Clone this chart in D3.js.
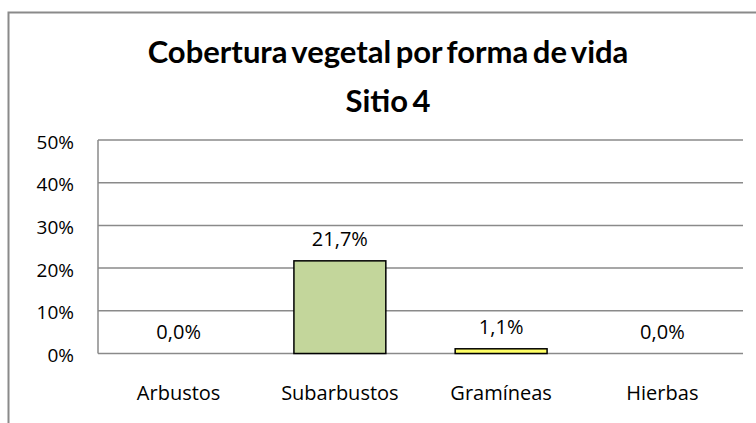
<!DOCTYPE html>
<html>
<head>
<meta charset="utf-8">
<script src="https://cdn.jsdelivr.net/npm/d3@7"></script>
<style>
  html, body { margin: 0; padding: 0; background: #fff; }
  svg { display: block; }
  text { font-family: "Open Sans", Lato, sans-serif; fill: #000; }
  .title { font-family: Lato, "Open Sans", sans-serif; font-weight: bold; }
</style>
</head>
<body>
<svg id="chart" width="756" height="423"></svg>
<script>
// Cobertura vegetal por forma de vida — Sitio 4
const titleLines = ["Cobertura vegetal por forma de vida", "Sitio 4"];
const categories = ["Arbustos", "Subarbustos", "Gramíneas", "Hierbas"];
const values = [0.0, 21.7, 1.1, 0.0];
const barColors = ["#c3d69b", "#c3d69b", "#ffff66", "#c3d69b"];
const yTicks = [0, 10, 20, 30, 40, 50];

const svg = d3.select("#chart");
const plot = { left: 98, right: 743, top: 140, bottom: 353.5 };

// outer chart frame (runs past the right and bottom edges)
svg.append("rect")
  .attr("x", 8.5).attr("y", 12.5)
  .attr("width", 900).attr("height", 600)
  .attr("fill", "#fff")
  .attr("stroke", "#8a8a8a").attr("stroke-width", 2);

// title
svg.append("g")
  .selectAll("text")
  .data(titleLines)
  .join("text")
  .attr("class", "title")
  .attr("x", 388)
  .attr("y", (d, i) => 63 + i * 49)
  .attr("text-anchor", "middle")
  .attr("font-size", 31)
  .attr("word-spacing", -3)
  .text(d => d);

const x = d3.scaleBand()
  .domain(categories)
  .range([plot.left, plot.right])
  .paddingInner(0.43)
  .paddingOuter(0.215);

const y = d3.scaleLinear()
  .domain([0, 50])
  .range([plot.bottom, plot.top]);

// gridlines
svg.append("g")
  .selectAll("line")
  .data(yTicks)
  .join("line")
  .attr("x1", plot.left).attr("x2", plot.right)
  .attr("y1", d => y(d)).attr("y2", d => y(d))
  .attr("stroke", "#8a8a8a").attr("stroke-width", 1.5);

// value axis line
svg.append("line")
  .attr("x1", plot.left).attr("x2", plot.left)
  .attr("y1", y(50)).attr("y2", y(0))
  .attr("stroke", "#8a8a8a").attr("stroke-width", 1.5);

// y-axis tick labels
svg.append("g")
  .selectAll("text")
  .data(yTicks)
  .join("text")
  .attr("x", 74).attr("y", d => y(d) + 8.5)
  .attr("text-anchor", "end")
  .attr("font-size", 19)
  .text(d => d + "%");

// bars
svg.append("g")
  .selectAll("rect")
  .data(values)
  .join("rect")
  .attr("x", (d, i) => x(categories[i]))
  .attr("width", x.bandwidth())
  .attr("y", d => y(d))
  .attr("height", d => y(0) - y(d))
  .attr("fill", (d, i) => barColors[i])
  .attr("stroke", d => d > 0 ? "#000" : "none")
  .attr("stroke-width", 1.5);

// value labels
const fmt = v => v.toFixed(1).replace(".", ",") + "%";
svg.append("g")
  .selectAll("text")
  .data(values)
  .join("text")
  .attr("x", (d, i) => x(categories[i]) + x.bandwidth() / 2)
  .attr("y", d => y(d) - 15)
  .attr("text-anchor", "middle")
  .attr("font-size", 20)
  .text(fmt);

// category labels
svg.append("g")
  .selectAll("text")
  .data(categories)
  .join("text")
  .attr("x", d => x(d) + x.bandwidth() / 2)
  .attr("y", 400)
  .attr("text-anchor", "middle")
  .attr("font-size", 20)
  .text(d => d);
</script>
</body>
</html>
